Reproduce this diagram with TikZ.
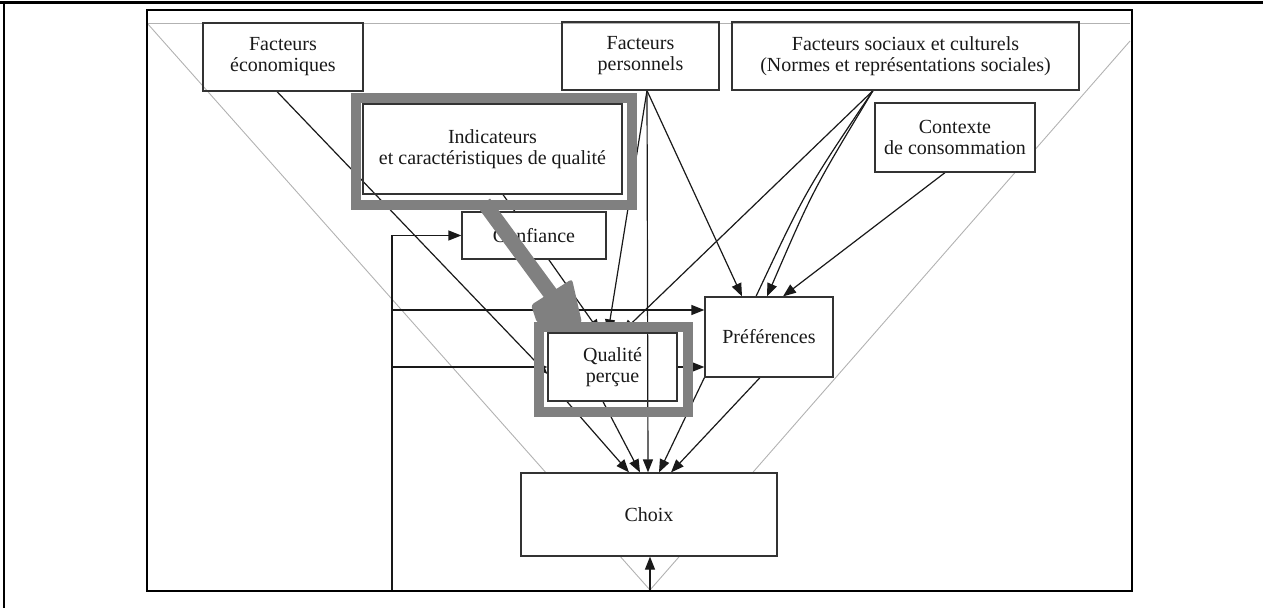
\documentclass[tikz,border=0pt]{standalone}
\usepackage{fontspec}
\setmainfont{Liberation Serif}
\usetikzlibrary{arrows.meta,backgrounds}
\begin{document}
\begin{tikzpicture}[x=1pt,y=-1pt,
  box/.style={draw=black!80, line width=1.2pt, rectangle, inner sep=0pt, align=center,
    font=\fontsize{20}{21}\selectfont, text=black!90},
  arr/.style={draw=black!90, line width=1.2pt, -{Triangle[length=13pt,width=10pt]}},
  ln/.style={draw=black!90, line width=1.2pt},
  guide/.style={draw=black!30, line width=0.9pt},
  hl/.style={draw=black!50, line width=10pt},
  hlfill/.style={fill=black!50}
]
\useasboundingbox (0,0) rectangle (1263,608);

% outer page frame and picture frame
\draw[line width=3pt] (0,2) -- (1263,2);
\draw[line width=2pt] (3.5,2) -- (3.5,608);
\draw[line width=2.5pt] (147,10) rectangle (1132,591);

% boxes
\node[box, minimum width=160pt, minimum height=68pt] (eco) at (283,57) {Facteurs\\économiques};
\node[box, minimum width=157pt, minimum height=68pt] (pers) at (640.5,56) {Facteurs\\personnels};
\node[box, minimum width=347pt, minimum height=68pt] (soc) at (905.5,56) {Facteurs sociaux et culturels\\(Normes et représentations sociales)};
\node[box, fill=white, minimum width=160pt, minimum height=69pt] (ctx) at (955,137.5) {Contexte\\de consommation};
\node[box, minimum width=259pt, minimum height=90pt] (ind) at (492.5,149) {Indicateurs\\et caractéristiques de qualité};
\node[box, fill=white, minimum width=144pt, minimum height=47pt] (conf) at (534,235.5) {Confiance};
\node[box, minimum width=129pt, minimum height=68pt] (qual) at (612.5,367) {Qualité\\perçue};
\node[box, minimum width=128pt, minimum height=80pt] (pref) at (769,337) {Préférences};
\node[box, fill=white, minimum width=256pt, minimum height=83pt] (choix) at (649,514.5) {Choix};

% free ends
\coordinate (gTL) at (147,23);
\coordinate (gTR) at (1130,23);
\coordinate (gR) at (1130,41);
\coordinate (gB) at (650,590);
\coordinate (fbBot) at (392,591);
\coordinate (fbTop) at (392,235.5);
\coordinate (fb1) at (392,367);
\coordinate (fb2) at (392,310);
\coordinate (botC) at (650,591);

\begin{pgfonlayer}{background}
  % light guide triangle of the scanned figure
  \draw[guide] (gTL) -- (gTR);
  \draw[guide] (gTL) -- (gB);
  \draw[guide] (gR) -- (gB);

  % connectors
  \draw[arr] ([xshift=-6pt]eco.south) -- ([yshift=-7pt]qual.west);
  \draw[arr] (fb1) -- (qual.west);
  \draw[arr] (fb2) -- (pref.west |- fb2);
  \draw[arr] (fbBot) -- (fbTop) -- (conf.west);
  \draw[arr] (botC) -- (choix.south -| botC);
  \draw[arr] ([xshift=10.5pt]ind.south) -- ([xshift=-12.5pt]qual.north);
  \draw[arr] ([xshift=6.5pt]pers.south) -- ([xshift=-4.5pt]qual.north);
  \draw[arr] ([xshift=-32.5pt]soc.south) -- ([xshift=9.5pt]qual.north);
  \draw[arr] ([xshift=6.5pt]pers.south) -- ([xshift=-1pt]choix.north);
  \draw[arr] ([xshift=6.5pt]pers.south) -- ([xshift=-27pt]pref.north);
  \draw[ln] ([xshift=-32.5pt]soc.south) .. controls (806,190) .. ([xshift=-13pt]pref.north);
  \draw[arr] ([xshift=-32.5pt]soc.south) .. controls (813,190) .. ([xshift=-2pt]pref.north);
  \draw[arr] ([xshift=-10pt]ctx.south) -- ([xshift=14pt]pref.north);
  \draw[arr] (qual.east) -- (pref.west |- qual.east);
  \draw[arr] ([xshift=-45.5pt]qual.south) -- ([xshift=-20pt]choix.north);
  \draw[arr] ([xshift=-9.5pt]qual.south) -- ([xshift=-9pt]choix.north);
  \draw[arr] (pref.south west) -- ([xshift=10pt]choix.north);
  \draw[arr] ([xshift=-9pt]pref.south) -- ([xshift=22pt]choix.north);
\end{pgfonlayer}

% grey highlight frames
\draw[hl] (356,98) rectangle (632,205);
\draw[hl] (539,327) rectangle (688,412);

% thick grey arrow from the indicators to perceived quality
\draw[draw=black!50, line width=15pt] (484,203) -- (553,297);
\fill[hlfill, rounded corners=3pt] (531,305) -- (572,279) -- (582,323) -- (537,323) -- cycle;
\end{tikzpicture}
\end{document}
